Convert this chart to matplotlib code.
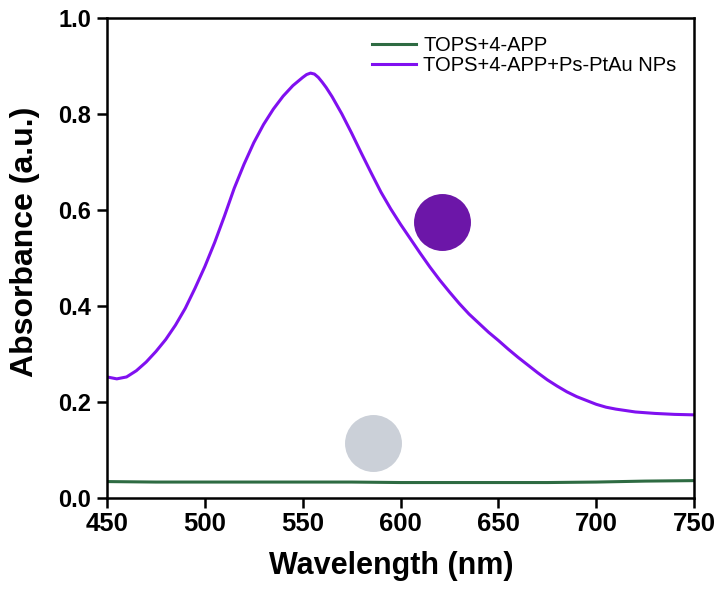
import matplotlib
matplotlib.use("Agg")
import matplotlib.pyplot as plt

plt.rcParams['font.family'] = ['Liberation Sans', 'DejaVu Sans']

# Purple: TOPS+4-APP+Ps-PtAu NPs
wl_np = [450, 455, 460, 465, 470, 475, 480, 485, 490, 495, 500, 505, 510, 515,
         520, 525, 530, 535, 540, 545, 550, 552, 554, 556, 558, 560, 562, 565,
         570, 575, 580, 585, 590, 595, 600, 605, 610, 615, 620, 625, 630, 635,
         640, 645, 650, 655, 660, 665, 670, 675, 680, 685, 690, 695, 700, 705,
         710, 715, 720, 730, 740, 750]
abs_np = [0.252, 0.248, 0.252, 0.265, 0.283, 0.305, 0.330, 0.360, 0.395, 0.437,
          0.482, 0.532, 0.587, 0.645, 0.695, 0.740, 0.778, 0.810, 0.837, 0.859,
          0.876, 0.882, 0.885, 0.883, 0.876, 0.866, 0.855, 0.836, 0.800, 0.760,
          0.718, 0.677, 0.637, 0.602, 0.570, 0.540, 0.510, 0.481, 0.454, 0.429,
          0.405, 0.383, 0.364, 0.345, 0.328, 0.310, 0.293, 0.277, 0.261, 0.246,
          0.233, 0.221, 0.211, 0.203, 0.195, 0.189, 0.185, 0.182, 0.179, 0.176,
          0.174, 0.173]

# Green: TOPS+4-APP
wl_blank = [450, 475, 500, 525, 550, 575, 600, 625, 650, 675, 700, 725, 750]
abs_blank = [0.034, 0.033, 0.033, 0.033, 0.033, 0.033, 0.032, 0.032, 0.032,
             0.032, 0.033, 0.035, 0.036]

labels = ["TOPS+4-APP", "TOPS+4-APP+Ps-PtAu NPs"]
xticks = [450, 500, 550, 600, 650, 700, 750]
yticks = [0.0, 0.2, 0.4, 0.6, 0.8, 1.0]

# photo-like colour dots (wavelength, absorbance positions)
dot_purple = (621, 0.575)
dot_gray = (586, 0.115)

fig = plt.figure(figsize=(7.23, 5.97), dpi=100)
ax = fig.add_axes([0.148, 0.166, 0.812, 0.804])

ax.plot(wl_blank, abs_blank, color='#2e6b42', lw=2.2, label=labels[0])
ax.plot(wl_np, abs_np, color='#8010f0', lw=2.2, label=labels[1])

ax.plot([dot_purple[0]], [dot_purple[1]], marker='o', ms=41, color='#6c16a8',
        mec='none', zorder=1)
ax.plot([dot_gray[0]], [dot_gray[1]], marker='o', ms=41, color='#cbd0d8',
        mec='none', zorder=1)

ax.set_xlim(450, 750)
ax.set_ylim(0, 1.0)
ax.set_xticks(xticks)
ax.set_yticks(yticks)
ax.set_yticklabels([f"{v:.1f}" for v in yticks])

for s in ax.spines.values():
    s.set_linewidth(1.8)
ax.tick_params(direction='out', length=7.5, width=1.8)
ax.tick_params(axis='x', labelsize=18.5, pad=3)
ax.tick_params(axis='y', labelsize=17, pad=4)
for lab in ax.get_xticklabels() + ax.get_yticklabels():
    lab.set_fontweight('bold')

ax.set_xlabel("Wavelength (nm)", fontsize=22, fontweight='bold')
ax.set_ylabel("Absorbance (a.u.)", fontsize=23, fontweight='bold')
ax.xaxis.set_label_coords(0.4847, -0.11)
ax.yaxis.set_label_coords(-0.114, 0.533)

ax.legend(loc='upper left', bbox_to_anchor=(0.451, 0.962), frameon=False,
          fontsize=14.5, handlelength=2.2, handletextpad=0.35, labelspacing=0.05,
          borderpad=0, borderaxespad=0)

fig.savefig("out.png", dpi=100)
